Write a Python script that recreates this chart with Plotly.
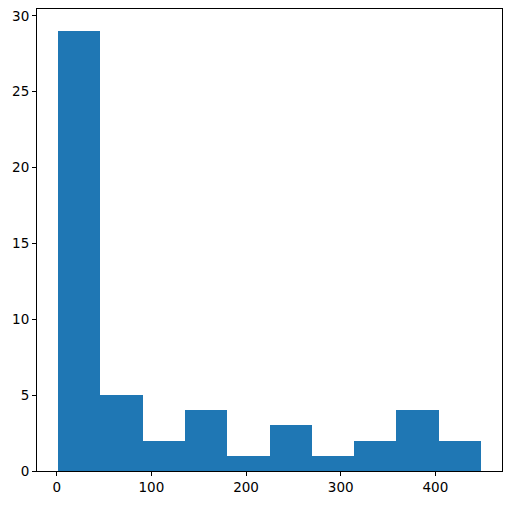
import plotly.graph_objects as go

# histogram bins (10 equal bins)
bin_edges = [1.5, 46.15, 90.8, 135.45, 180.1, 224.75, 269.4, 314.05, 358.7, 403.35, 448.0]
counts = [29, 5, 2, 4, 1, 3, 1, 2, 4, 2]

BAR_COLOR = "#1f77b4"

centers = [(a + b) / 2 for a, b in zip(bin_edges[:-1], bin_edges[1:])]
widths = [b - a for a, b in zip(bin_edges[:-1], bin_edges[1:])]

span = bin_edges[-1] - bin_edges[0]
x_range = [bin_edges[0] - 0.05 * span, bin_edges[-1] + 0.05 * span]
y_range = [0, max(counts) * 1.05]

fig = go.Figure()
fig.add_trace(go.Bar(
    x=centers, y=counts, width=widths,
    marker=dict(color=BAR_COLOR, line=dict(width=0)),
))

axis_common = dict(
    showgrid=False, zeroline=False, automargin=False,
    showline=True, mirror=True, linecolor="black", linewidth=1.1,
    ticks="outside", ticklen=4, tickwidth=1.1, tickcolor="black",
    tickfont=dict(family="DejaVu Sans", size=13.5, color="black"),
)

fig.update_layout(
    width=512, height=505,
    margin=dict(l=37, r=10, t=9, b=34),
    paper_bgcolor="white", plot_bgcolor="white",
    showlegend=False,
    bargap=0,
    xaxis=dict(range=x_range, tickvals=[0, 100, 200, 300, 400], **axis_common),
    yaxis=dict(range=y_range, tickvals=[0, 5, 10, 15, 20, 25, 30], **axis_common),
)

# drop the browser's default 8px body margin so the figure sits at the page corner
fig.write_html(
    "out.html",
    config={"displayModeBar": False},
    post_script="document.body.style.margin='0';",
)
